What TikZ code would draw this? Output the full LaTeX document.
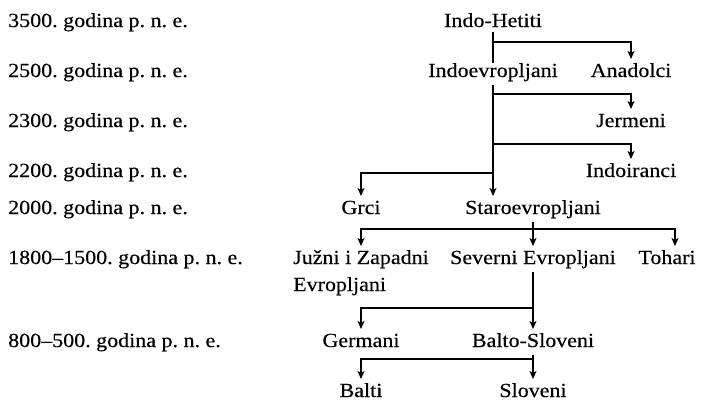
\documentclass[tikz,border=0pt]{standalone}
\usepackage{fontspec}
\setmainfont{Liberation Serif}[FakeStretch=1.1,FakeBold=0.4]
\usetikzlibrary{arrows.meta}
\frenchspacing
\begin{document}
\begin{tikzpicture}[x=1pt,y=-1pt,
  every node/.style={font=\fontsize{20}{27}\selectfont},
  lab/.style={anchor=base, inner sep=0pt, outer sep=5pt, text height=13pt, text depth=3pt},
  datelab/.style={anchor=base west, inner sep=0pt},
  conn/.style={line width=1.4pt, black},
  arr/.style={conn, -{Stealth[length=8pt,width=7pt,inset=2pt]}}]
\useasboundingbox (0,0) rectangle (701,400);
% dates
\node[datelab] (d1) at (8,27)  {3500. godina p. n. e.};
\node[datelab] (d2) at (8,77)  {2500. godina p. n. e.};
\node[datelab] (d3) at (8,127) {2300. godina p. n. e.};
\node[datelab] (d4) at (8,177) {2200. godina p. n. e.};
\node[datelab] (d5) at (8,214) {2000. godina p. n. e.};
\node[datelab] (d6) at (8,264) {1800–1500. godina p. n. e.};
\node[datelab] (d7) at (8,347) {800–500. godina p. n. e.};
% peoples
\node[lab] (ih)  at (493,27)  {Indo-Hetiti};
\node[lab] (ie)  at (493,77)  {Indoevropljani};
\node[lab] (an)  at (631,77)  {Anadolci};
\node[lab] (jer) at (631,127) {Jermeni};
\node[lab] (ind) at (631,177) {Indoiranci};
\node[lab] (gr)  at (361,214) {Grci};
\node[lab] (st)  at (533,214) {Staroevropljani};
\node[lab] (jz)  at (361,264) {\begin{tabular}[t]{@{}l@{}}Južni i Zapadni\\Evropljani\end{tabular}};
\node[lab] (sev) at (533,264) {Severni Evropljani};
\node[lab] (toh) at (667,264) {Tohari};
\node[lab] (ger) at (361,347) {Germani};
\node[lab] (bs)  at (533,347) {Balto-Sloveni};
\node[lab] (bal) at (361,397) {Balti};
\node[lab] (slo) at (533,397) {Sloveni};
% junctions
\coordinate (j1) at (493,42);
\coordinate (j2) at (493,94);
\coordinate (j3) at (493,144);
\coordinate (j4) at (493,173);
\coordinate (j5) at (533,229);
\coordinate (j6) at (533,308);
\coordinate (j7) at (533,359);
% connectors
\draw[conn] ([yshift=3pt]ih.south) -- ([yshift=-4pt]ie.north);
\draw[arr] (j1) -| (an.north);
\draw[arr] (ie.south) -- (ie.south |- st.north);
\draw[arr] (j2) -| (jer.north);
\draw[arr] (j3) -| (ind.north);
\draw[arr] (j4) -| (gr.north);
\draw[arr] (st.south) -- (sev.north);
\draw[arr] (j5) -| (jz.north);
\draw[arr] (j5) -| ([xshift=8pt]toh.north);
\draw[arr] (sev.south) -- (bs.north);
\draw[arr] (j6) -| (ger.north);
\draw[arr] (bs.south) -- (slo.north);
\draw[arr] (j7) -| (bal.north);
\end{tikzpicture}
\end{document}
